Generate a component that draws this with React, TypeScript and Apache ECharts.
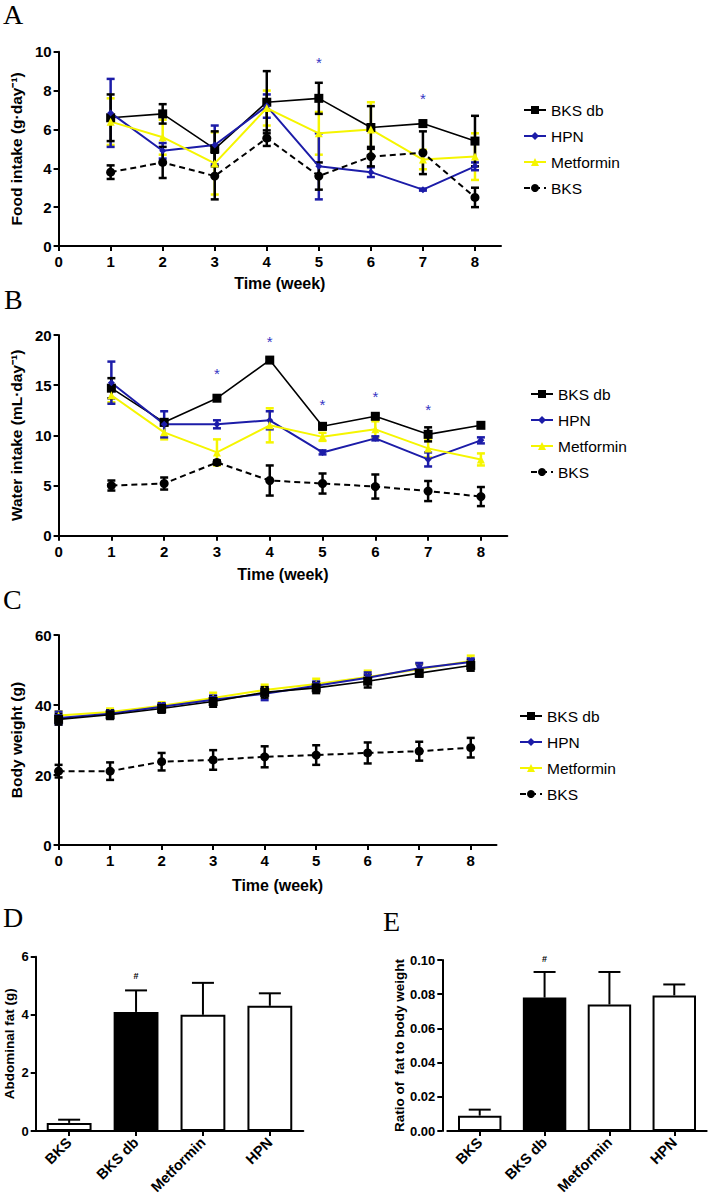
import React, { useEffect, useRef } from "react";
import * as echarts from "echarts";

// ---------- data ----------
const groupNames = ["BKS db", "HPN", "Metformin", "BKS"];
const weeksAB = [1, 2, 3, 4, 5, 6, 7, 8];
const weeksC = [0, 1, 2, 3, 4, 5, 6, 7, 8];
const weekTicks = [0, 1, 2, 3, 4, 5, 6, 7, 8];

// A: food intake (g/day)
const foodBKSdb = [6.6, 6.8, 5.0, 7.4, 7.6, 6.1, 6.3, 5.4];
const foodBKSdbErr = [1.2, 0.5, 0.9, 1.6, 0.8, 1.1, 0.15, 1.3];
const foodHPN = [6.85, 4.9, 5.2, 7.2, 4.1, 3.8, 2.9, 4.1];
const foodHPNErr = [1.75, 0.4, 1.0, 0.6, 1.7, 0.25, 0.05, 0.2];
const foodMet = [6.4, 5.6, 4.25, 7.1, 5.8, 6.0, 4.45, 4.6];
const foodMetErr = [1.2, 0.9, 1.6, 0.9, 1.1, 1.4, 0.5, 1.2];
const foodBKS = [3.8, 4.3, 3.6, 5.55, 3.6, 4.6, 4.8, 2.5];
const foodBKSErr = [0.35, 0.8, 1.2, 0.4, 0.7, 0.5, 1.1, 0.5];
const foodStars = [[5, 9.45], [7, 7.6]];

// B: water intake (mL/day)
const waterBKSdb = [14.7, 11.3, 13.7, 17.5, 10.9, 11.9, 10.1, 11.0];
const waterBKSdbErr = [1.0, 0.3, 0.2, 0.2, 0.3, 0.2, 0.7, 0.2];
const waterHPN = [15.25, 11.1, 11.1, 11.5, 8.3, 9.7, 7.6, 9.5];
const waterHPNErr = [2.1, 1.3, 0.4, 0.9, 0.2, 0.2, 0.7, 0.3];
const waterMet = [14.0, 10.3, 8.3, 11.0, 9.85, 10.6, 8.7, 7.6];
const waterMetErr = [0.7, 0.7, 1.3, 1.7, 0.4, 0.8, 0.9, 0.6];
const waterBKS = [5.0, 5.2, 7.3, 5.5, 5.2, 4.9, 4.45, 3.9];
const waterBKSErr = [0.5, 0.6, 0.2, 1.5, 1.0, 1.2, 1.0, 0.95];
const waterStars = [[3, 16.2], [4, 19.4], [5, 13.1], [6, 13.85], [7, 12.6]];

// C: body weight (g)
const wBKSdb = [35.9, 37.2, 39.0, 41.0, 43.6, 44.9, 46.8, 49.1, 51.3];
const wBKSdbErr = [1.5, 1.2, 1.2, 1.5, 1.5, 1.5, 1.8, 1.0, 1.5];
const wHPN = [36.3, 37.5, 39.5, 41.5, 43.2, 45.5, 47.8, 50.5, 52.3];
const wHPNErr = [1.8, 1.0, 1.0, 1.2, 1.8, 1.2, 1.5, 1.5, 1.0];
const wMet = [37.0, 38.0, 39.8, 42.0, 44.3, 46.0, 48.0, 50.2, 52.6];
const wMetErr = [1.2, 1.0, 1.0, 1.5, 1.5, 1.5, 1.8, 1.5, 1.5];
const wBKS = [21.1, 21.1, 23.8, 24.3, 25.2, 25.7, 26.3, 26.8, 27.8];
const wBKSErr = [1.8, 2.5, 2.5, 2.8, 3.0, 2.8, 3.0, 2.7, 2.8];

// D / E
const barGroups = ["BKS", "BKS db", "Metformin", "HPN"];
const fat = [0.28, 4.1, 4.0, 4.31];
const fatErr = [0.11, 0.74, 1.1, 0.43];
const fatSig = [["BKS db", 5.35]];
const ratio = [0.009, 0.078, 0.074, 0.0793];
const ratioErr = [0.0035, 0.015, 0.019, 0.0064];
const ratioSig = [["BKS db", 0.1006]];

// ---------- styles ----------
const FONT = 'Arial, "Liberation Sans", Helvetica, sans-serif';
const SERIF = '"Liberation Serif", "Times New Roman", serif';
const BLACK = "#000000";
const BLUE = "#1c1ca8";
const YELLOW = "#f5f500";
const STAR = "#3535c4";
const barFills = ["#ffffff", "#000000", "#ffffff", "#ffffff"];

function errSeries(gi: number, xs: any[], means: number[], errs: number[], color: string, capW: number, oneSided = false, lw = 2.5) {
  return {
    type: "custom",
    xAxisIndex: gi,
    yAxisIndex: gi,
    z: 3,
    silent: true,
    data: xs.map((x, i) => [x, means[i], errs[i]]),
    encode: { x: 0, y: 1 },
    renderItem: (params: any, api: any) => {
      const x = api.value(0);
      const m = api.value(1);
      const e = api.value(2);
      const top = api.coord([x, m + e]);
      const bot = api.coord([x, oneSided ? m : m - e]);
      const hw = capW / 2;
      const st = { stroke: color, lineWidth: lw };
      const children: any[] = [
        { type: "line", shape: { x1: top[0], y1: top[1], x2: bot[0], y2: bot[1] }, style: st },
        { type: "line", shape: { x1: top[0] - hw, y1: top[1], x2: top[0] + hw, y2: top[1] }, style: st },
      ];
      if (!oneSided) {
        children.push({ type: "line", shape: { x1: bot[0] - hw, y1: bot[1], x2: bot[0] + hw, y2: bot[1] }, style: st });
      }
      return { type: "group", children };
    },
  };
}

function markSeries(gi: number, pts: any[], text: string, color: string, font: string) {
  return {
    type: "custom",
    xAxisIndex: gi,
    yAxisIndex: gi,
    z: 5,
    silent: true,
    data: pts,
    encode: { x: 0, y: 1 },
    renderItem: (params: any, api: any) => {
      const p = api.coord([api.value(0), api.value(1)]);
      return {
        type: "text",
        x: p[0],
        y: p[1],
        style: { text, fill: color, font, align: "center", verticalAlign: "middle" },
      };
    },
  };
}

function lineSeries(gi: number, name: string, xs: number[], vals: number[], kind: string) {
  const base: any = {
    type: "line",
    name,
    xAxisIndex: gi,
    yAxisIndex: gi,
    data: xs.map((x, i) => [x, vals[i]]),
    z: 4,
  };
  if (kind === "BKS db") {
    return { ...base, color: BLACK, symbol: "rect", symbolSize: 9, lineStyle: { color: BLACK, width: 1.6 }, itemStyle: { color: BLACK } };
  }
  if (kind === "HPN") {
    return { ...base, color: BLUE, symbol: "diamond", symbolSize: 7, lineStyle: { color: BLUE, width: 2 }, itemStyle: { color: BLUE } };
  }
  if (kind === "HPNdown") {
    return { ...base, color: BLUE, symbol: "triangle", symbolRotate: 180, symbolSize: 8, lineStyle: { color: BLUE, width: 2 }, itemStyle: { color: BLUE } };
  }
  if (kind === "Metformin") {
    return { ...base, color: YELLOW, symbol: "triangle", symbolSize: 8, lineStyle: { color: YELLOW, width: 2 }, itemStyle: { color: YELLOW } };
  }
  return { ...base, color: BLACK, symbol: "circle", symbolSize: 9, lineStyle: { color: BLACK, width: 2, type: [6, 4] }, itemStyle: { color: BLACK } };
}

const axisLine = { show: true, lineStyle: { color: BLACK, width: 2 } };
const axisTick = { show: true, inside: false, length: 5, lineStyle: { color: BLACK, width: 2 } };
const tickFont = { color: BLACK, fontFamily: FONT, fontWeight: "bold" as const };
const nameFont = (size: number) => ({ color: BLACK, fontFamily: FONT, fontWeight: "bold" as const, fontSize: size });

function weekXAxis(gi: number, nameGap: number) {
  return {
    type: "value",
    gridIndex: gi,
    min: 0,
    max: 8.5,
    interval: 1,
    axisLine: { ...axisLine, onZero: false },
    axisTick: { ...axisTick, customValues: weekTicks },
    axisLabel: { ...tickFont, fontSize: 15, margin: 8, customValues: weekTicks },
    splitLine: { show: false },
    name: "Time (week)",
    nameLocation: "middle",
    nameGap,
    nameTextStyle: nameFont(16),
  };
}

function valYAxis(gi: number, max: number, interval: number, name: string, nameGap: number, labelSize: number, nameSize: number, fmt?: any, offset = 0) {
  return {
    type: "value",
    gridIndex: gi,
    min: 0,
    max,
    interval,
    offset,
    axisLine,
    axisTick,
    axisLabel: { ...tickFont, fontSize: labelSize, margin: 7, formatter: fmt },
    splitLine: { show: false },
    name,
    nameLocation: "middle",
    nameRotate: 90,
    nameGap,
    nameTextStyle: nameFont(nameSize),
  };
}

function catXAxis(gi: number) {
  return {
    type: "category",
    gridIndex: gi,
    data: barGroups,
    axisLine,
    axisTick: { ...axisTick, alignWithLabel: true },
    axisLabel: { ...tickFont, fontSize: 14.5, rotate: 45, margin: 9, interval: 0 },
  };
}

function legendAt(left: number, top: number) {
  return {
    data: groupNames,
    orient: "vertical",
    left,
    top,
    itemGap: 10,
    itemWidth: 22,
    itemHeight: 10,
    selectedMode: false,
    textStyle: { fontFamily: FONT, fontSize: 15.5, color: BLACK },
  };
}

function letter(t: string, x: number, y: number) {
  return { type: "text", left: x, top: y, style: { text: t, font: `28px ${SERIF}`, fill: BLACK } };
}

export default function App() {
  const ref = useRef<HTMLDivElement>(null);
  useEffect(() => {
    if (!ref.current) return;
    const chart = echarts.init(ref.current, undefined, { renderer: "svg" });
    const option: any = {
      animation: false,
      backgroundColor: "#ffffff",
      textStyle: { fontFamily: FONT },
      grid: [
        { left: 52.3, top: 51.7, width: 448.7, height: 194.3 },
        { left: 54.3, top: 335, width: 453, height: 200.7 },
        { left: 51, top: 635, width: 445.5, height: 210 },
        { left: 35.7, top: 956.7, width: 267.6, height: 177.6 },
        { left: 447.3, top: 960, width: 259.4, height: 172.7 },
      ],
      xAxis: [weekXAxis(0, 29), weekXAxis(1, 31), weekXAxis(2, 32), catXAxis(3), catXAxis(4)],
      yAxis: [
        valYAxis(0, 10, 2, "Food intake (g·day⁻¹)", 30, 15, 15.5),
        valYAxis(1, 20, 5, "Water intake (mL·day⁻¹)", 32, 15, 15.5),
        valYAxis(2, 60, 20, "Body weight (g)", 30, 15, 15.5),
        valYAxis(3, 6, 2, "Abdominal fat (g)", 19, 13, 13.5),
        valYAxis(4, 0.1, 0.02, "Ratio of  fat to body weight", 34, 13, 13.5, (v: number) => v.toFixed(2), 5),
      ],
      legend: [legendAt(518, 97), legendAt(525, 381), legendAt(514, 703)],
      series: [
        // A
        errSeries(0, weeksAB, foodMet, foodMetErr, YELLOW, 8),
        errSeries(0, weeksAB, foodHPN, foodHPNErr, BLUE, 8),
        errSeries(0, weeksAB, foodBKS, foodBKSErr, BLACK, 8),
        errSeries(0, weeksAB, foodBKSdb, foodBKSdbErr, BLACK, 8),
        lineSeries(0, "BKS db", weeksAB, foodBKSdb, "BKS db"),
        lineSeries(0, "HPN", weeksAB, foodHPN, "HPN"),
        lineSeries(0, "Metformin", weeksAB, foodMet, "Metformin"),
        lineSeries(0, "BKS", weeksAB, foodBKS, "BKS"),
        markSeries(0, foodStars, "*", STAR, `15px ${FONT}`),
        // B
        errSeries(1, weeksAB, waterMet, waterMetErr, YELLOW, 8),
        errSeries(1, weeksAB, waterHPN, waterHPNErr, BLUE, 8),
        errSeries(1, weeksAB, waterBKS, waterBKSErr, BLACK, 8),
        errSeries(1, weeksAB, waterBKSdb, waterBKSdbErr, BLACK, 8),
        lineSeries(1, "BKS db", weeksAB, waterBKSdb, "BKS db"),
        lineSeries(1, "HPN", weeksAB, waterHPN, "HPN"),
        lineSeries(1, "Metformin", weeksAB, waterMet, "Metformin"),
        lineSeries(1, "BKS", weeksAB, waterBKS, "BKS"),
        markSeries(1, waterStars, "*", STAR, `15px ${FONT}`),
        // C
        errSeries(2, weeksC, wMet, wMetErr, YELLOW, 8),
        errSeries(2, weeksC, wHPN, wHPNErr, BLUE, 8),
        errSeries(2, weeksC, wBKS, wBKSErr, BLACK, 8),
        errSeries(2, weeksC, wBKSdb, wBKSdbErr, BLACK, 8),
        lineSeries(2, "Metformin", weeksC, wMet, "Metformin"),
        lineSeries(2, "HPN", weeksC, wHPN, "HPNdown"),
        lineSeries(2, "BKS db", weeksC, wBKSdb, "BKS db"),
        lineSeries(2, "BKS", weeksC, wBKS, "BKS"),
        // D
        {
          type: "bar",
          xAxisIndex: 3,
          yAxisIndex: 3,
          barWidth: "67%",
          z: 2,
          data: fat.map((v, i) => ({ value: v, itemStyle: { color: barFills[i] } })),
          itemStyle: { borderColor: BLACK, borderWidth: 2 },
        },
        errSeries(3, barGroups, fat, fatErr, BLACK, 22, true, 2),
        markSeries(3, fatSig, "#", BLACK, `bold 9px ${FONT}`),
        // E
        {
          type: "bar",
          xAxisIndex: 4,
          yAxisIndex: 4,
          barWidth: "67%",
          z: 2,
          data: ratio.map((v, i) => ({ value: v, itemStyle: { color: barFills[i] } })),
          itemStyle: { borderColor: BLACK, borderWidth: 2 },
        },
        errSeries(4, barGroups, ratio, ratioErr, BLACK, 22, true, 2),
        markSeries(4, ratioSig, "#", BLACK, `bold 9px ${FONT}`),
      ],
      graphic: [
        letter("A", 3, 0),
        letter("B", 4, 285),
        letter("C", 3, 585),
        letter("D", 3, 903),
        letter("E", 383, 907),
      ],
    };
    chart.setOption(option);
    return () => chart.dispose();
  }, []);
  return (
    <div
      ref={ref}
      style={{ position: "absolute", left: 0, top: 0, width: 709, height: 1197, background: "#fff" }}
    />
  );
}
